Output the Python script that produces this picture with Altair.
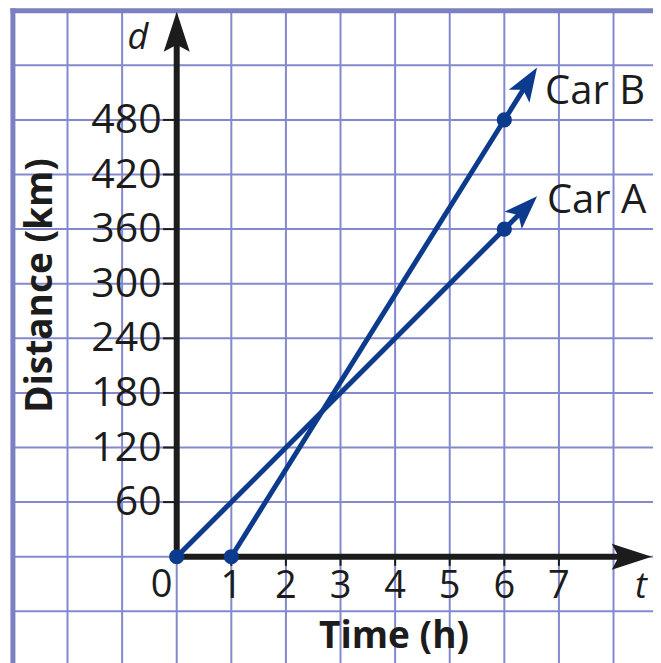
import math
import altair as alt
import pandas as pd

# ---- data ----
grid_t = [-3, -2, -1, 0, 1, 2, 3, 4, 5, 6, 7, 8]
grid_d = [-60, 0, 60, 120, 180, 240, 300, 360, 420, 480, 540, 600]
x_tick_values = [1, 2, 3, 4, 5, 6, 7]
y_tick_values = [60, 120, 180, 240, 300, 360, 420, 480]

car_names = ["Car A", "Car B"]
car_start_t = [0, 1]
car_start_d = [0, 0]
car_mark_t = [6, 6]
car_mark_d = [360, 480]
car_tip_t = [6.6, 6.6]
car_label_t = [6.78, 6.745]
car_label_d = [391, 511]

axis_var_text = ["d", "t"]
axis_var_t = [-0.71, 8.5]
axis_var_d = [570, -33]

title_text = ["Distance (km)", "Time (h)"]
title_t = [-2.485, 3.98]
title_d = [298, -88]
title_angle = [270, 0]

axis_tip_t = [0, 8.70]
axis_tip_d = [599, 0]
axis_tip_angle = [0, 90]

# ---- styles ----
W, H = 645, 655
GRID = "#8389cc"
BORDER = "#7b80c2"
INK = "#1c1c1c"
CAR = "#0c3a8c"
FONT = "Open Sans"

X = alt.Scale(domain=[-3.09, 8.723], nice=False, zero=False)
Y = alt.Scale(domain=[-116.8, 603.0], nice=False, zero=False)


def xe(f):
    return alt.X(f, type="quantitative", scale=X, axis=None)


def ye(f):
    return alt.Y(f, type="quantitative", scale=Y, axis=None)


# grid
t_left, d_top = grid_t[0], grid_d[-1]
vgrid = pd.DataFrame({"t": grid_t, "border": [v == t_left for v in grid_t],
                      "d": [d_top] * len(grid_t)})
hgrid = pd.DataFrame({"d": grid_d, "border": [v == d_top for v in grid_d],
                      "t": [t_left] * len(grid_d)})

v_thin = alt.Chart(vgrid[~vgrid.border]).mark_rule(color=GRID, strokeWidth=2).encode(
    x=xe("t"), y=ye("d"), y2=alt.value(H))
v_thick = alt.Chart(vgrid[vgrid.border]).mark_rule(
    color=BORDER, strokeWidth=5, strokeCap="square").encode(
    x=xe("t"), y=ye("d"), y2=alt.value(H + 5))
h_thin = alt.Chart(hgrid[~hgrid.border]).mark_rule(color=GRID, strokeWidth=2).encode(
    y=ye("d"), x=xe("t"), x2=alt.value(W))
h_thick = alt.Chart(hgrid[hgrid.border]).mark_rule(
    color=BORDER, strokeWidth=5, strokeCap="square").encode(
    y=ye("d"), x=xe("t"), x2=alt.value(W + 5))

# axes
axes_df = pd.DataFrame({"t": [0, 0], "d": [0, 0], "t2": [0, 8.2], "d2": [570, 0]})
axes = alt.Chart(axes_df).mark_rule(color=INK, strokeWidth=6, strokeCap="square").encode(
    x=xe("t"), y=ye("d"), x2="t2", y2="d2")

tips_df = pd.DataFrame({"t": axis_tip_t, "d": axis_tip_d, "a": axis_tip_angle})
axis_tips = alt.Chart(tips_df).mark_point(
    shape="M0,0 L0.65,2 L0,1.65 L-0.65,2 Z", filled=True, opacity=1,
    strokeWidth=0, color=INK, size=1600).encode(
    x=xe("t"), y=ye("d"), angle=alt.Angle("a:Q", scale=None))

# ticks
ytick_df = pd.DataFrame({"d": y_tick_values, "t": [-0.25] * len(y_tick_values),
                         "t2": [0] * len(y_tick_values)})
yticks = alt.Chart(ytick_df).mark_rule(color=INK, strokeWidth=2).encode(
    x=xe("t"), x2="t2", y=ye("d"))
xtick_df = pd.DataFrame({"t": x_tick_values, "d": [-10] * len(x_tick_values),
                         "d2": [0] * len(x_tick_values)})
xticks = alt.Chart(xtick_df).mark_rule(color=INK, strokeWidth=2).encode(
    x=xe("t"), y=ye("d"), y2="d2")

# tick labels
ylab_df = pd.DataFrame({"d": y_tick_values, "t": [0] * len(y_tick_values),
                        "s": [str(v) for v in y_tick_values]})
ylabels = alt.Chart(ylab_df).mark_text(
    font=FONT, fontSize=41, align="right", baseline="middle", dx=-15, dy=1, color=INK).encode(
    x=xe("t"), y=ye("d"), text="s:N")
xlab_df = pd.DataFrame({"t": x_tick_values, "d": [0] * len(x_tick_values),
                        "s": [str(v) for v in x_tick_values]})
xlabels = alt.Chart(xlab_df).mark_text(
    font=FONT, fontSize=38, align="center", baseline="alphabetic", dy=41, color=INK).encode(
    x=xe("t"), y=ye("d"), text="s:N")
zero_df = pd.DataFrame({"t": [0], "d": [0], "s": ["0"]})
zero_label = alt.Chart(zero_df).mark_text(
    font=FONT, fontSize=38, align="center", baseline="alphabetic", dx=-15, dy=40, color=INK).encode(
    x=xe("t"), y=ye("d"), text="s:N")

# cars
rows_line = []
rows_pts = []
rows_tip = []
for i, name in enumerate(car_names):
    slope = (car_mark_d[i] - car_start_d[i]) / (car_mark_t[i] - car_start_t[i])
    tip_d = car_start_d[i] + slope * (car_tip_t[i] - car_start_t[i])
    end_t = car_tip_t[i] - 0.25
    end_d = car_start_d[i] + slope * (end_t - car_start_t[i])
    rows_line.append({"car": name, "t": car_start_t[i], "d": car_start_d[i], "o": 0})
    rows_line.append({"car": name, "t": end_t, "d": end_d, "o": 1})
    rows_pts.append({"car": name, "t": car_start_t[i], "d": car_start_d[i]})
    rows_pts.append({"car": name, "t": car_mark_t[i], "d": car_mark_d[i]})
    rows_tip.append({"car": name, "t": car_tip_t[i], "d": tip_d,
                     "a": math.degrees(math.atan(60.0 / slope))})

lines = alt.Chart(pd.DataFrame(rows_line)).mark_line(color=CAR, strokeWidth=5).encode(
    x=xe("t"), y=ye("d"), detail="car:N", order="o:Q")
dots = alt.Chart(pd.DataFrame(rows_pts)).mark_circle(color=CAR, size=230, opacity=1).encode(
    x=xe("t"), y=ye("d"))
car_tips = alt.Chart(pd.DataFrame(rows_tip)).mark_point(
    shape="M0,0 L0.72,2 L0,1.55 L-0.72,2 Z", filled=True, opacity=1,
    strokeWidth=0, color=CAR, size=1150).encode(
    x=xe("t"), y=ye("d"), angle=alt.Angle("a:Q", scale=None))

car_lab_df = pd.DataFrame({"t": car_label_t, "d": car_label_d, "s": car_names})
car_labels = alt.Chart(car_lab_df).mark_text(
    font=FONT, fontSize=40, align="left", baseline="middle", color=INK).encode(
    x=xe("t"), y=ye("d"), text="s:N")

var_df = pd.DataFrame({"t": axis_var_t, "d": axis_var_d, "s": axis_var_text})
var_labels = alt.Chart(var_df).mark_text(
    font=FONT, fontSize=36, fontStyle="italic", align="center", baseline="middle", color=INK).encode(
    x=xe("t"), y=ye("d"), text="s:N")

title_df = pd.DataFrame({"t": title_t, "d": title_d, "s": title_text, "a": title_angle})
titles = alt.Chart(title_df).mark_text(
    font=FONT, fontSize=37, fontWeight="bold", align="center", baseline="middle", color=INK).encode(
    x=xe("t"), y=ye("d"), text="s:N", angle=alt.Angle("a:Q", scale=None))

chart = alt.layer(
    v_thin, h_thin, v_thick, h_thick,
    axes, axis_tips, yticks, xticks,
    lines, dots, car_tips,
    ylabels, xlabels, zero_label, car_labels, var_labels, titles,
).properties(
    width=W, height=H, padding=0,
    autosize=alt.AutoSizeParams(type="none"),
    background="white",
).configure_view(stroke=None)

chart.save("out.html", embed_options={"renderer": "svg", "actions": False})
